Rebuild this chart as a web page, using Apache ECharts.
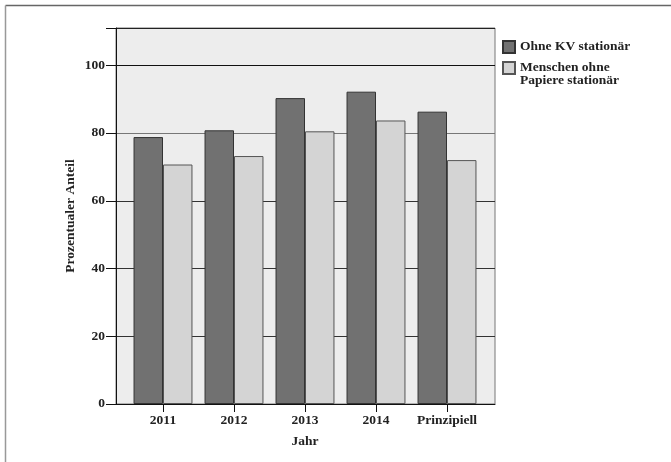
<!DOCTYPE html>
<html><head><meta charset="utf-8">
<script src="https://cdn.jsdelivr.net/npm/echarts@6/dist/echarts.min.js"></script>
<style>html,body{margin:0;padding:0;background:#fff}#c{width:671px;height:462px}</style>
</head><body><div id="c"></div>
<script>
const categories = ['2011', '2012', '2013', '2014', 'Prinzipiell'];
const ohneKV = [78.8, 80.8, 90.3, 92.2, 86.3];
const ohnePapiere = [70.7, 73.2, 80.5, 83.7, 72.0];
const seriesNames = ['Ohne KV stationär', 'Menschen ohne\nPapiere stationär'];
const yTicks = [0, 20, 40, 60, 80, 100];

const font = '"Liberation Serif", "Times New Roman", serif';
const fs = 13.5;
const chart = echarts.init(document.getElementById('c'));
chart.setOption({
  backgroundColor: '#fff',
  animation: false,
  graphic: [
    { type: 'line', shape: { x1: 5.5, y1: 5.5, x2: 671, y2: 5.5 }, style: { stroke: '#666', lineWidth: 1.5 }, silent: true },
    { type: 'line', shape: { x1: 5.5, y1: 5.5, x2: 5.5, y2: 462 }, style: { stroke: '#999', lineWidth: 1.5 }, silent: true }
  ],
  grid: [
    { left: 116, top: 28, width: 379, height: 376, show: true, backgroundColor: '#ededed', borderColor: '#777', borderWidth: 1 },
    { left: 127.5, top: 28, width: 355, height: 376 }
  ],
  legend: {
    left: 502, top: 40, padding: 0, orient: 'vertical', itemWidth: 12, itemHeight: 12, itemGap: -6,
    textStyle: { fontFamily: font, fontWeight: 'bold', fontSize: fs, color: '#222', lineHeight: 13 },
    formatter: name => name.includes('\n') ? ' \n' + name : name,
    data: [
      { name: seriesNames[0], icon: 'rect' },
      { name: seriesNames[1], icon: 'rect' }
    ]
  },
  xAxis: [
    { type: 'category', gridIndex: 0, data: categories, show: true,
      axisLine: { lineStyle: { color: '#111', width: 1 } },
      axisTick: { show: false }, axisLabel: { show: false }, splitLine: { show: false } },
    { type: 'category', gridIndex: 1, data: categories,
      name: 'Jahr', nameLocation: 'middle', nameGap: 31,
      nameTextStyle: { fontFamily: font, fontWeight: 'bold', fontSize: fs, color: '#222' },
      axisLine: { show: false },
      axisTick: { show: true, interval: 0, alignWithLabel: true, length: 8, lineStyle: { color: '#111' } },
      axisLabel: { interval: 0, fontFamily: font, fontWeight: 'bold', fontSize: fs, color: '#222', margin: 10 } }
  ],
  yAxis: [
    { type: 'value', gridIndex: 0, min: 0, max: 111, interval: 20,
      name: 'Prozentualer Anteil', nameLocation: 'middle', nameGap: 38, nameMoveOverlap: false,
      nameTextStyle: { fontFamily: font, fontWeight: 'bold', fontSize: fs, color: '#222' },
      axisLine: { show: true, lineStyle: { color: '#111', width: 1 } },
      axisTick: { show: true, length: 10, lineStyle: { color: '#111' } },
      axisLabel: { fontFamily: font, fontWeight: 'bold', fontSize: fs, color: '#222', margin: 11,
        formatter: v => yTicks.includes(v) ? String(v) : '' },
      splitLine: { show: true, lineStyle: { color: ['#222', '#333', '#333', '#333', '#777', '#111'], width: 1.2 } } },
    { type: 'value', gridIndex: 1, min: 0, max: 111, interval: 20, show: false, splitLine: { show: false } }
  ],
  series: [
    { name: seriesNames[0], type: 'bar', xAxisIndex: 1, yAxisIndex: 1, data: ohneKV, barGap: '0%', barCategoryGap: '17%',
      itemStyle: { color: '#717171', borderColor: '#333', borderWidth: 1 } },
    { name: seriesNames[1], type: 'bar', xAxisIndex: 1, yAxisIndex: 1, data: ohnePapiere, barGap: '0%', barCategoryGap: '17%',
      itemStyle: { color: '#d4d4d4', borderColor: '#555', borderWidth: 1 } }
  ]
});
</script></body></html>
